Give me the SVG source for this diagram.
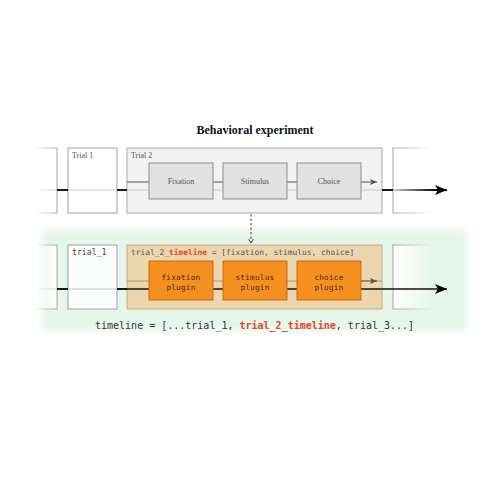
<svg xmlns="http://www.w3.org/2000/svg" width="500" height="500" viewBox="0 0 500 500">
<style>
.serif{font-family:"Liberation Serif","Times New Roman",serif;}
.mono{font-family:"DejaVu Sans Mono","Liberation Mono",monospace;}
.lbl{font-size:8px;fill:#555;}
.box{fill:#fff;stroke:#a0a0a0;stroke-width:1;}
.step{fill:#e2e2e2;stroke:#8e8e8e;stroke-width:1;}
.plug{fill:#f5901f;stroke:#c06d18;stroke-width:1;}
.ptxt{font-size:7.6px;fill:#3d2a10;text-anchor:middle;letter-spacing:0.3px;}
.stxt{font-size:8px;fill:#555;text-anchor:middle;}
.red{fill:#e5452b;font-weight:bold;}
.blk{stroke:#000;stroke-width:1.8;fill:none;}
.lite{stroke:#c8c8c8;stroke-width:1;fill:none;}
.dark{stroke:#555;stroke-width:1;fill:none;}
</style>
<defs>
<linearGradient id="gL" gradientUnits="userSpaceOnUse" x1="34" y1="0" x2="58" y2="0"><stop offset="0" stop-color="#000"/><stop offset="1" stop-color="#fff"/></linearGradient>
<linearGradient id="gR" gradientUnits="userSpaceOnUse" x1="393" y1="0" x2="432" y2="0"><stop offset="0" stop-color="#fff"/><stop offset="1" stop-color="#000"/></linearGradient>
<linearGradient id="lineFade" gradientUnits="userSpaceOnUse" x1="393" y1="0" x2="436" y2="0"><stop offset="0" stop-color="#d0d0d0"/><stop offset="1" stop-color="#000"/></linearGradient>
<mask id="mL" maskUnits="userSpaceOnUse" x="0" y="0" width="500" height="500"><rect x="0" y="0" width="500" height="500" fill="url(#gL)"/></mask>
<mask id="mR" maskUnits="userSpaceOnUse" x="0" y="0" width="500" height="500"><rect x="0" y="0" width="500" height="500" fill="url(#gR)"/></mask>
<filter id="soft" x="-10%" y="-20%" width="120%" height="140%"><feGaussianBlur stdDeviation="3"/></filter>
<marker id="bigArrow" viewBox="0 0 12 10" refX="12" refY="5" markerWidth="12" markerHeight="10" markerUnits="userSpaceOnUse" orient="auto"><path d="M0,0 L12,5 L0,10 L3,5 Z" fill="#000"/></marker>
<marker id="smallArrow" viewBox="0 0 7 6" refX="7" refY="3" markerWidth="7" markerHeight="6" markerUnits="userSpaceOnUse" orient="auto"><path d="M0,0 L7,3 L0,6 L1.5,3 Z" fill="#555"/></marker>
<marker id="dashArrow" viewBox="0 0 6 6" refX="3" refY="6" markerWidth="6" markerHeight="6" markerUnits="userSpaceOnUse" orient="0"><path d="M0.5,2 L3,6 L5.5,2" fill="none" stroke="#333" stroke-width="0.8"/></marker>
</defs>

<rect width="500" height="500" fill="#fff"/>
<rect id="timeline-bg" x="42" y="230" width="425" height="101" fill="#e6f6ea" filter="url(#soft)"/>

<text x="255" y="134" class="serif" font-size="12" font-weight="bold" text-anchor="middle" fill="#111">Behavioral experiment</text>

<!-- Top row nodes -->
<g id="top-prev" mask="url(#mL)"><rect class="box" x="20" y="148" width="37" height="65"/></g>
<g id="trial1"><rect class="box" x="68" y="148" width="49" height="65"/><text class="serif lbl" x="72" y="158">Trial 1</text></g>
<g id="trial2"><rect x="127" y="148" width="255" height="65" fill="#f2f2f2" stroke="#a8a8a8"/><text class="serif lbl" x="131" y="158">Trial 2</text></g>
<g id="top-next" mask="url(#mR)"><rect class="box" x="393" y="148" width="60" height="65"/></g>

<!-- Bottom row nodes -->
<g id="bot-prev" mask="url(#mL)"><rect class="box" x="20" y="245" width="37" height="64"/></g>
<g id="trial_1"><rect x="68" y="245" width="49" height="64" fill="#fbfdfc" stroke="#a0a0a0"/><text class="mono" font-size="8.2" fill="#444" x="72" y="255">trial_1</text></g>
<g id="trial_2_timeline"><rect x="127" y="245" width="255" height="64" fill="#ecd6ae" stroke="#c9aa7c"/><text class="mono" font-size="7.9" fill="#555" x="131" y="255">trial_2_<tspan class="red">timeline</tspan> = [fixation, stimulus, choice]</text></g>
<g id="bot-next" mask="url(#mR)"><rect x="393" y="245" width="60" height="64" fill="#fff" stroke="#a0a0a0"/></g>

<!-- Connectors -->
<g id="connectors">
<!-- top row -->
<line class="lite" x1="38" y1="190" x2="57" y2="190" mask="url(#mL)"/>
<line class="blk" x1="57" y1="190" x2="68" y2="190"/>
<line class="lite" x1="68" y1="190" x2="117" y2="190"/>
<line class="blk" x1="117" y1="190" x2="127" y2="190"/>
<line class="lite" x1="127" y1="190" x2="382" y2="190"/>
<line class="dark" x1="127" y1="182" x2="149" y2="182"/>
<line class="dark" x1="213" y1="182" x2="223" y2="182"/>
<line class="dark" x1="287" y1="182" x2="297" y2="182"/>
<line class="dark" x1="361" y1="182" x2="377" y2="182" marker-end="url(#smallArrow)"/>
<line class="blk" x1="382" y1="190" x2="393" y2="190"/>
<line x1="393" y1="190" x2="447" y2="190" stroke="url(#lineFade)" stroke-width="1.8" marker-end="url(#bigArrow)"/>
<!-- dashed link -->
<line x1="251" y1="214" x2="251" y2="243" stroke="#333" stroke-width="0.9" stroke-dasharray="2.5,2" marker-end="url(#dashArrow)"/>
<!-- bottom row -->
<line class="lite" x1="38" y1="289" x2="57" y2="289" mask="url(#mL)"/>
<line class="blk" x1="57" y1="289" x2="68" y2="289"/>
<line class="lite" x1="68" y1="289" x2="117" y2="289"/>
<line class="blk" x1="117" y1="289" x2="127" y2="289"/>
<line x1="127" y1="281" x2="382" y2="281" stroke="#a89880" stroke-width="1"/>
<line x1="361" y1="281" x2="377" y2="281" stroke="#555" stroke-width="1" marker-end="url(#smallArrow)"/>
<line x1="127" y1="289" x2="447" y2="289" stroke="#1a1208" stroke-width="1.5" marker-end="url(#bigArrow)"/>
</g>

<!-- Steps (drawn over lines) -->
<g id="fixation"><rect class="step" x="149" y="163" width="64" height="36"/><text class="serif stxt" x="181" y="184">Fixation</text></g>
<g id="stimulus"><rect class="step" x="223" y="163" width="64" height="36"/><text class="serif stxt" x="255" y="184">Stimulus</text></g>
<g id="choice"><rect class="step" x="297" y="163" width="64" height="36"/><text class="serif stxt" x="329" y="184">Choice</text></g>

<g id="fixation-plugin"><rect class="plug" x="149" y="261" width="64" height="39"/><text class="mono ptxt" x="181" y="280">fixation</text><text class="mono ptxt" x="181" y="290">plugin</text></g>
<g id="stimulus-plugin"><rect class="plug" x="223" y="261" width="64" height="39"/><text class="mono ptxt" x="255" y="280">stimulus</text><text class="mono ptxt" x="255" y="290">plugin</text></g>
<g id="choice-plugin"><rect class="plug" x="297" y="261" width="64" height="39"/><text class="mono ptxt" x="329" y="280">choice</text><text class="mono ptxt" x="329" y="290">plugin</text></g>

<text class="mono" font-size="10" fill="#333" x="95" y="329">timeline = [...trial_1, <tspan class="red">trial_2_timeline</tspan>, trial_3...]</text>
</svg>
